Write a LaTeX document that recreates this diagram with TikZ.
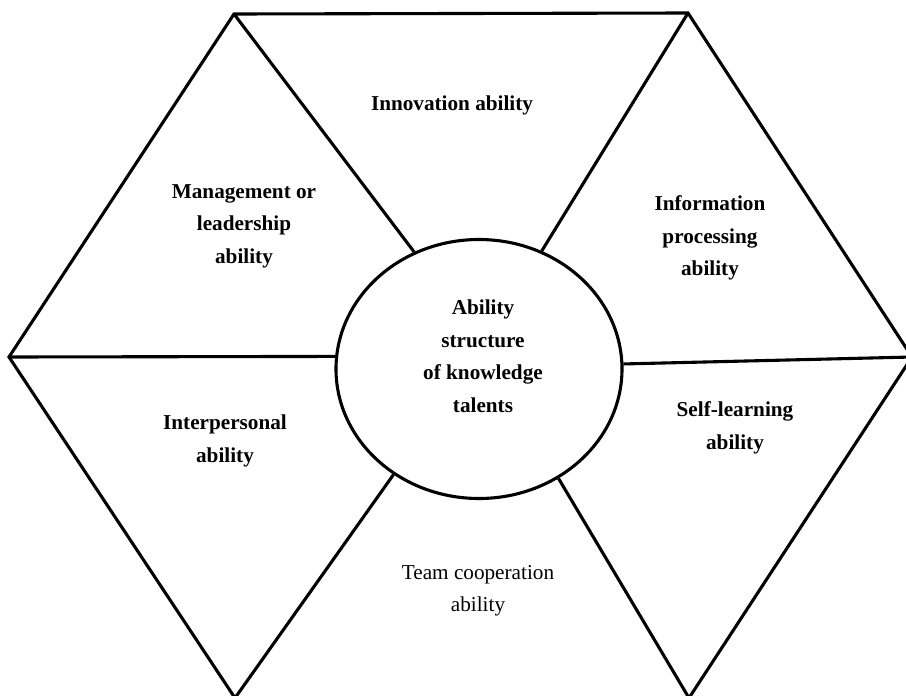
\documentclass[tikz,border=0pt]{standalone}
\usepackage{fontspec}
\setmainfont{Liberation Serif}
\usetikzlibrary{shapes.geometric}

\begin{document}
\begin{tikzpicture}[
  x=1pt, y=-1pt,
  font=\fontsize{21.2}{32.5}\selectfont,
  edge/.style={line width=3.1pt, line join=miter},
  core/.style={ellipse, draw, line width=3.1pt, minimum width=286pt, minimum height=259pt, inner sep=0pt},
  part/.style={align=center, font=\fontsize{21.2}{32.5}\selectfont\bfseries},
  plain/.style={align=center}
]
\useasboundingbox (0,0) rectangle (906,696);
% ----- outer hexagon -----
\coordinate (tl) at (234,14);
\coordinate (tr) at (688,13);
\coordinate (r)  at (912,357);
\coordinate (br) at (689,698);
\coordinate (bl) at (235,698);
\coordinate (l)  at (9,357);
\draw[edge] (tl) -- (tr) -- (r) -- (br) -- (bl) -- (l) -- cycle;
% ----- centre and spokes -----
\node[core] (core) at (479,369) {};
\draw[edge] (tl) -- (core.119);
\draw[edge] (tr) -- (core.62);
\draw[edge] (l) -- (core.175);
\draw[edge] (core.2) -- (r);
\draw[edge] (bl) -- (core.231);
\draw[edge] (br) -- (core.306);
\node[part] (ctr) at (483,356) {Ability\\structure\\of knowledge\\talents};
% ----- the six abilities -----
\node[part] (inno)  at (452,105) {Innovation ability};
\node[part] (mgmt)  at (244,226) {Management or\\leadership\\ability};
\node[part] (info)  at (710,238) {Information\\processing\\ability};
\node[part] (inter) at (225,441) {Interpersonal\\ability};
\node[part] (self)  at (735,428) {Self-learning\\ability};
\node[plain] (team) at (478,591) {Team cooperation\\ability};
\end{tikzpicture}
\end{document}
